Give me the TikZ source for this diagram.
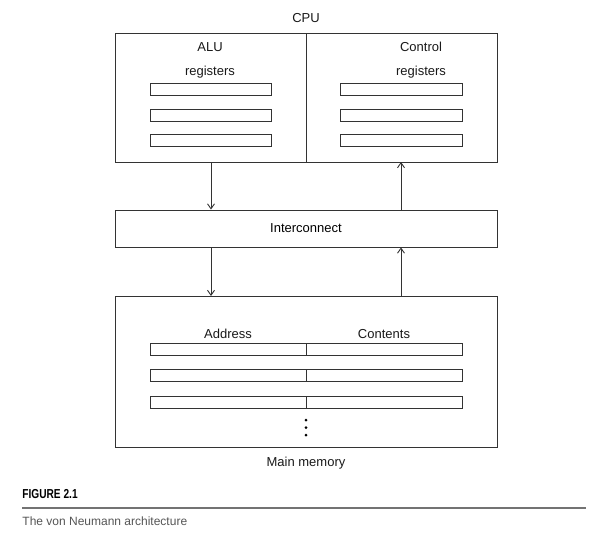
\documentclass[tikz,border=0pt]{standalone}
\usepackage{fontspec}
\setmainfont{Liberation Sans}
\newfontfamily\figfont[FakeStretch=0.78]{Liberation Sans}
\usetikzlibrary{arrows.meta}
\definecolor{linegray}{HTML}{333333}
\definecolor{capgray}{HTML}{555555}
\begin{document}
\begin{tikzpicture}[x=1pt,y=-1pt,
  line width=0.9pt,
  box/.style={draw=linegray},
  reg/.style={draw=linegray, line width=0.9pt},
  lbl/.style={inner sep=0pt, font=\fontsize{13}{15}\selectfont, text=black!90},
  flow/.style={draw=linegray, -{Straight Barb[length=5pt,width=7pt]}},
  dot/.style={circle, fill=black, inner sep=0pt, minimum size=3pt}]
\useasboundingbox (0,0) rectangle (616,539);

% CPU with ALU and control halves
\node[lbl] (cpulbl) at (306,18) {CPU};
\draw[box] (115,33) rectangle (497,162);
\coordinate (cpuA) at (211,162);
\coordinate (cpuC) at (401,162);
\draw[box] (306,33) -- (306,162);
\node[lbl] (alu) at (210,47) {ALU};
\node[lbl] (alureg) at (210,72) {registers};
\node[lbl] (ctl) at (421,47) {Control};
\node[lbl] (ctlreg) at (421,72) {registers};
\foreach \y in {83,109,134} {
  \draw[reg] (150,\y) rectangle (271,\y+12);
  \draw[reg] (340,\y) rectangle (462,\y+12);
}

% Interconnect
\node[box, minimum width=382pt, minimum height=37pt, inner sep=0pt,
      font=\fontsize{13}{15}\selectfont] (ic) at (306,228.5) {Interconnect};

% Main memory
\draw[box] (115,296) rectangle (497,447);
\coordinate (memA) at (211,296);
\coordinate (memC) at (401,296);
\node[lbl] (addr) at (228,334) {Address};
\node[lbl] (cont) at (384,334) {Contents};
\foreach \y in {343,369,396} {
  \draw[reg] (150,\y) rectangle (462,\y+12);
  \draw[reg] (306,\y) -- (306,\y+12);
}
\node[dot] (d1) at (306,420) {};
\node[dot] (d2) at (306,427.5) {};
\node[dot] (d3) at (306,435) {};
\node[lbl] (memlbl) at (306,463) {Main memory};

% data paths
\draw[flow] (cpuA) -- (cpuA |- ic.north);
\draw[flow] (ic.north -| cpuC) -- (cpuC);
\draw[flow] (ic.south -| memA) -- (memA);
\draw[flow] (memC) -- (ic.south -| memC);

% caption
\node[anchor=west, inner sep=0pt, font=\figfont\bfseries\fontsize{13}{15}\selectfont] (fig) at (22,494) {FIGURE 2.1};
\draw[draw=black!55, line width=2pt] (22,507.5) -- (586,507.5);
\node[anchor=west, inner sep=0pt, text=capgray, font=\fontsize{12}{14}\selectfont] (cap) at (22,521) {The von Neumann architecture};
\end{tikzpicture}
\end{document}
